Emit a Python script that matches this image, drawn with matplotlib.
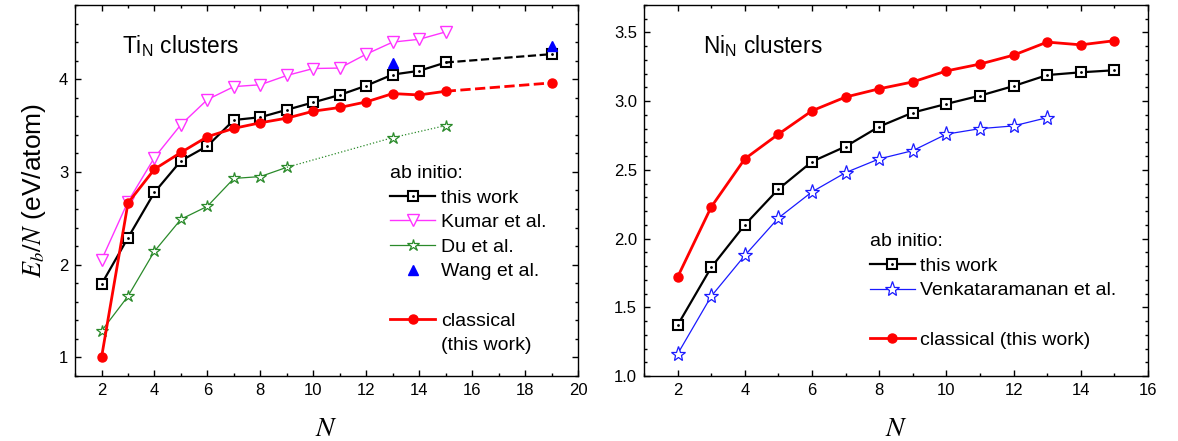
import numpy as np
import matplotlib
matplotlib.use("Agg")
import matplotlib.pyplot as plt
from matplotlib.lines import Line2D
from matplotlib.legend_handler import HandlerTuple

plt.rcParams['font.family'] = ['Liberation Sans', 'DejaVu Sans']
plt.rcParams['mathtext.fontset'] = 'stix'

# --- Ti clusters ---
ti_n = [2, 3, 4, 5, 6, 7, 8, 9, 10, 11, 12, 13, 14, 15, 19]
ti_this = [1.79, 2.29, 2.78, 3.12, 3.28, 3.56, 3.59, 3.67, 3.75, 3.83, 3.93, 4.05, 4.09, 4.18, 4.27]
ti_class = [1.00, 2.665, 3.03, 3.21, 3.38, 3.47, 3.53, 3.58, 3.655, 3.695, 3.755, 3.845, 3.83, 3.87, 3.96]

kumar_n = [2, 3, 4, 5, 6, 7, 8, 9, 10, 11, 12, 13, 14, 15]
kumar = [2.05, 2.68, 3.155, 3.51, 3.78, 3.92, 3.94, 4.04, 4.115, 4.12, 4.27, 4.40, 4.43, 4.51]

du_n = [2, 3, 4, 5, 6, 7, 8, 9, 13, 15]
du = [1.285, 1.66, 2.145, 2.49, 2.63, 2.93, 2.95, 3.05, 3.37, 3.50]

wang_n = [13, 19]
wang = [4.17, 4.36]

# --- Ni clusters ---
ni_n = [2, 3, 4, 5, 6, 7, 8, 9, 10, 11, 12, 13, 14, 15]
ni_this = [1.37, 1.79, 2.10, 2.36, 2.56, 2.67, 2.815, 2.917, 2.98, 3.04, 3.11, 3.19, 3.21, 3.225]
ni_class = [1.72, 2.23, 2.58, 2.76, 2.93, 3.03, 3.09, 3.14, 3.22, 3.27, 3.335, 3.43, 3.41, 3.44]

venk_n = [2, 3, 4, 5, 6, 7, 8, 9, 10, 11, 12, 13]
venk = [1.16, 1.58, 1.877, 2.15, 2.34, 2.48, 2.58, 2.64, 2.76, 2.80, 2.82, 2.88]

MAGENTA = '#ff33ff'
GREEN = '#2a8a2a'
FS = 12
LFS = 14

fig = plt.figure(figsize=(11.78, 4.41), dpi=100)
ax1 = fig.add_axes([0.0637, 0.1474, 0.427, 0.8413])
ax2 = fig.add_axes([0.5467, 0.1474, 0.4278, 0.8413])


def style_axes(ax):
    ax.tick_params(which='both', direction='in', top=True, right=True, labelsize=FS, width=1)
    ax.tick_params(which='major', length=4.5, pad=5)
    ax.tick_params(which='minor', length=2.5)
    for s in ax.spines.values():
        s.set_linewidth(1)


def squares(ax, x, y, **kw):
    l1, = ax.plot(x, y, color='black', lw=1.6, marker='s', ms=6.5, mfc='white',
                  mec='black', mew=1.5, **kw)
    l2, = ax.plot(x, y, ls='none', marker='.', ms=2, color='black')
    return (l1, l2)


def add_legend(ax, handles, labels, anchor):
    return ax.legend(handles, labels,
                     handler_map={tuple: HandlerTuple(ndivide=1)},
                     title='ab initio:', alignment='left', title_fontsize=LFS,
                     fontsize=LFS, frameon=False, loc='upper left',
                     bbox_to_anchor=anchor, handlelength=2.3, handletextpad=0.3,
                     labelspacing=0.36, borderpad=0, borderaxespad=0)


blank = Line2D([], [], color='none')

# left panel
sq = squares(ax1, ti_n[:14], ti_this[:14])
ax1.plot(ti_n[13:], ti_this[13:], color='black', lw=1.6, ls='--')
squares(ax1, ti_n[14:], ti_this[14:])

km, = ax1.plot(kumar_n, kumar, color=MAGENTA, lw=1, marker='v', ms=9, mfc='white',
               mec=MAGENTA, mew=1)
du1, = ax1.plot(du_n[:8], du[:8], color=GREEN, lw=0.9, marker='*', ms=9, mfc='white',
                mec=GREEN, mew=0.9)
ax1.plot(du_n[7:], du[7:], color=GREEN, lw=0.9, ls=':', marker='*', ms=9, mfc='white',
         mec=GREEN, mew=0.9, markevery=[1, 2])
wg, = ax1.plot(wang_n, wang, ls='none', marker='^', ms=7, color='#0000ff')

rc, = ax1.plot(ti_n[:14], ti_class[:14], color='red', lw=2, marker='o', ms=6.5)
ax1.plot(ti_n[13:], ti_class[13:], color='red', lw=2, ls='--', marker='o', ms=6.5,
         markevery=[1])

ax1.set_xlim(1, 20)
ax1.set_ylim(0.8, 4.8)
ax1.set_xticks(np.arange(2, 21, 2))
ax1.set_xticks(np.arange(1, 20, 1), minor=True)
ax1.set_yticks([1, 2, 3, 4])
ax1.set_yticks(np.arange(0.8, 4.81, 0.2), minor=True)
style_axes(ax1)
ax1.set_xlabel('$N$', fontsize=20, labelpad=13)
ax1.set_ylabel('$E_b/N$ (eV/atom)', fontsize=19, labelpad=8)
ax1.text(0.093, 0.89, 'Ti$_\\mathregular{N}$ clusters', transform=ax1.transAxes,
         fontsize=16.3, va='center')

add_legend(ax1, [sq, km, du1, wg, blank, rc, blank],
           ['this work', 'Kumar et al.', 'Du et al.', 'Wang et al.', ' ',
            'classical', '(this work)'], (0.627, 0.569))

# right panel
sq2 = squares(ax2, ni_n, ni_this)
vk, = ax2.plot(venk_n, venk, color='#1a1aff', lw=0.9, marker='*', ms=11, mfc='white',
               mec='#1a1aff', mew=0.9)
rc2, = ax2.plot(ni_n, ni_class, color='red', lw=2, marker='o', ms=6.5)

ax2.set_xlim(1, 16)
ax2.set_ylim(1.0, 3.7)
ax2.set_xticks(np.arange(2, 17, 2))
ax2.set_xticks(np.arange(1, 16, 1), minor=True)
ax2.set_yticks(np.arange(1.0, 3.51, 0.5))
ax2.set_yticklabels(['1.0', '1.5', '2.0', '2.5', '3.0', '3.5'])
ax2.set_yticks(np.arange(1.0, 3.71, 0.1), minor=True)
style_axes(ax2)
ax2.set_xlabel('$N$', fontsize=20, labelpad=13)
ax2.text(0.117, 0.89, 'Ni$_\\mathregular{N}$ clusters', transform=ax2.transAxes,
         fontsize=16.3, va='center')

add_legend(ax2, [sq2, vk, blank, rc2],
           ['this work', 'Venkataramanan et al.', ' ', 'classical (this work)'],
           (0.448, 0.385))

fig.savefig('out.png', dpi=100)
